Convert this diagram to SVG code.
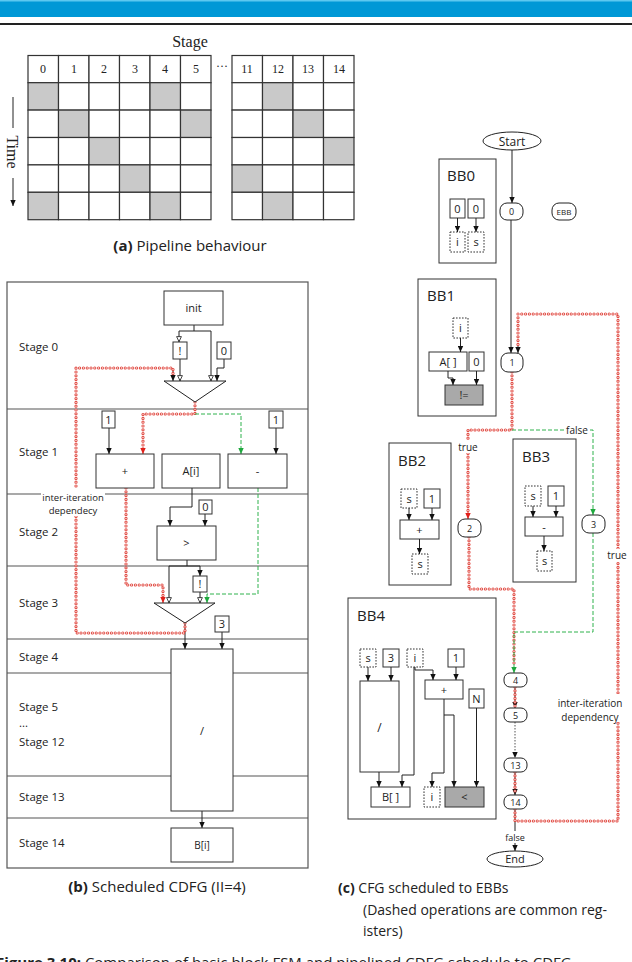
<svg xmlns="http://www.w3.org/2000/svg" xmlns:xlink="http://www.w3.org/1999/xlink" width="632" height="962" viewBox="0 0 632 962">
<defs>
<style>
.ln{stroke:#222;stroke-width:1;fill:none}
.bx{fill:#fff;stroke:#333;stroke-width:1}
.db{fill:#fff;stroke:#333;stroke-width:1;stroke-dasharray:1.6 1.4}
.gb{fill:#a9a9a9;stroke:#333;stroke-width:1}
.cell{fill:#fff;stroke:#333;stroke-width:1.2}
.gc{fill:#c9c9c9;stroke:#333;stroke-width:1.2}
.sf{font-family:"Liberation Serif","DejaVu Serif",serif;fill:#222;text-anchor:middle}
.t{font-family:"Open Sans","Noto Sans","DejaVu Sans",sans-serif;fill:#222;text-anchor:middle}
.tl{font-family:"Open Sans","Noto Sans","DejaVu Sans",sans-serif;fill:#222}
.ro{stroke:#e0463e;stroke-width:3.2;stroke-dasharray:0 3.8;stroke-linecap:round;fill:none}
.ri{stroke:#fff;stroke-width:1.3;stroke-dasharray:0 3.8;stroke-linecap:round;fill:none}
.gd{stroke:#2fb24c;stroke-width:1;stroke-dasharray:4 2;fill:none}
.nd{fill:#fff;stroke:#222;stroke-width:1}
</style>
<marker id="a" viewBox="0 0 10 10" refX="10" refY="5" markerWidth="6" markerHeight="6" markerUnits="userSpaceOnUse" orient="auto"><path d="M0,0.5 L10,5 L0,9.5 z" fill="#111"/></marker>
<marker id="h" viewBox="0 0 10 10" refX="10" refY="5" markerWidth="6" markerHeight="6" markerUnits="userSpaceOnUse" orient="auto"><path d="M1,1 L9.5,5 L1,9 z" fill="#fff" stroke="#111" stroke-width="1.3"/></marker>
<marker id="r" viewBox="0 0 10 10" refX="10" refY="5" markerWidth="6" markerHeight="6" markerUnits="userSpaceOnUse" orient="auto"><path d="M0,0.5 L10,5 L0,9.5 z" fill="#e0201a"/></marker>
<marker id="g" viewBox="0 0 10 10" refX="10" refY="5" markerWidth="6" markerHeight="6" markerUnits="userSpaceOnUse" orient="auto"><path d="M0,0.5 L10,5 L0,9.5 z" fill="#1fa83e"/></marker>
<path id="p1" d="M185,623 V633 H76 V368 H173 V376"/>
<path id="p2" d="M195,402 V414 H143 V449"/>
<path id="p3" d="M126,488 V585 H163 V599"/>
<path id="p4" d="M515,809 V821 H618 V314 H518 V348"/>
<path id="p5" d="M512,372 V430 H468 V514"/>
<path id="p6" d="M469,537 V589 H514 V665"/>
<path id="p7" d="M515,687 V706"/>
<path id="p8" d="M515,772 V793"/>
</defs>
<rect width="632" height="962" fill="#fff"/>
<!-- header -->
<rect x="0" y="0" width="632" height="17" fill="#0098d6"/>
<rect x="0" y="0" width="632" height="1.5" fill="#5cc8f0"/>
<rect x="0" y="23" width="632" height="2" fill="#222"/>

<!-- (a) pipeline -->
<g id="pipeline">
<text class="sf" x="190" y="47" font-size="16">Stage</text>
<g>
<rect class="cell" x="28" y="55.5" width="30.5" height="27.2"/><rect class="cell" x="58.5" y="55.5" width="30.5" height="27.2"/><rect class="cell" x="89" y="55.5" width="30.5" height="27.2"/><rect class="cell" x="119.5" y="55.5" width="30.5" height="27.2"/><rect class="cell" x="150" y="55.5" width="30.5" height="27.2"/><rect class="cell" x="180.5" y="55.5" width="30.5" height="27.2"/>
<rect class="cell" x="232" y="55.5" width="30.5" height="27.2"/><rect class="cell" x="262.5" y="55.5" width="30.5" height="27.2"/><rect class="cell" x="293" y="55.5" width="30.5" height="27.2"/><rect class="cell" x="323.5" y="55.5" width="30.5" height="27.2"/>
</g>
<g font-size="12">
<text class="sf" x="43" y="73">0</text><text class="sf" x="74" y="73">1</text><text class="sf" x="104" y="73">2</text><text class="sf" x="135" y="73">3</text><text class="sf" x="165" y="73">4</text><text class="sf" x="196" y="73">5</text>
<text class="sf" x="222" y="70">···</text>
<text class="sf" x="247" y="73">11</text><text class="sf" x="278" y="73">12</text><text class="sf" x="308" y="73">13</text><text class="sf" x="339" y="73">14</text>
</g>
<!-- rows -->
<g>
<rect class="gc" x="28" y="82.7" width="30.5" height="27.4"/><rect class="cell" x="58.5" y="82.7" width="30.5" height="27.4"/><rect class="cell" x="89" y="82.7" width="30.5" height="27.4"/><rect class="cell" x="119.5" y="82.7" width="30.5" height="27.4"/><rect class="gc" x="150" y="82.7" width="30.5" height="27.4"/><rect class="cell" x="180.5" y="82.7" width="30.5" height="27.4"/>
<rect class="cell" x="232" y="82.7" width="30.5" height="27.4"/><rect class="gc" x="262.5" y="82.7" width="30.5" height="27.4"/><rect class="cell" x="293" y="82.7" width="30.5" height="27.4"/><rect class="cell" x="323.5" y="82.7" width="30.5" height="27.4"/>

<rect class="cell" x="28" y="110.1" width="30.5" height="27.4"/><rect class="gc" x="58.5" y="110.1" width="30.5" height="27.4"/><rect class="cell" x="89" y="110.1" width="30.5" height="27.4"/><rect class="cell" x="119.5" y="110.1" width="30.5" height="27.4"/><rect class="cell" x="150" y="110.1" width="30.5" height="27.4"/><rect class="gc" x="180.5" y="110.1" width="30.5" height="27.4"/>
<rect class="cell" x="232" y="110.1" width="30.5" height="27.4"/><rect class="cell" x="262.5" y="110.1" width="30.5" height="27.4"/><rect class="gc" x="293" y="110.1" width="30.5" height="27.4"/><rect class="cell" x="323.5" y="110.1" width="30.5" height="27.4"/>

<rect class="cell" x="28" y="137.5" width="30.5" height="27.4"/><rect class="cell" x="58.5" y="137.5" width="30.5" height="27.4"/><rect class="gc" x="89" y="137.5" width="30.5" height="27.4"/><rect class="cell" x="119.5" y="137.5" width="30.5" height="27.4"/><rect class="cell" x="150" y="137.5" width="30.5" height="27.4"/><rect class="cell" x="180.5" y="137.5" width="30.5" height="27.4"/>
<rect class="cell" x="232" y="137.5" width="30.5" height="27.4"/><rect class="cell" x="262.5" y="137.5" width="30.5" height="27.4"/><rect class="cell" x="293" y="137.5" width="30.5" height="27.4"/><rect class="gc" x="323.5" y="137.5" width="30.5" height="27.4"/>

<rect class="cell" x="28" y="164.9" width="30.5" height="27.4"/><rect class="cell" x="58.5" y="164.9" width="30.5" height="27.4"/><rect class="cell" x="89" y="164.9" width="30.5" height="27.4"/><rect class="gc" x="119.5" y="164.9" width="30.5" height="27.4"/><rect class="cell" x="150" y="164.9" width="30.5" height="27.4"/><rect class="cell" x="180.5" y="164.9" width="30.5" height="27.4"/>
<rect class="gc" x="232" y="164.9" width="30.5" height="27.4"/><rect class="cell" x="262.5" y="164.9" width="30.5" height="27.4"/><rect class="cell" x="293" y="164.9" width="30.5" height="27.4"/><rect class="cell" x="323.5" y="164.9" width="30.5" height="27.4"/>

<rect class="gc" x="28" y="192.3" width="30.5" height="27.4"/><rect class="cell" x="58.5" y="192.3" width="30.5" height="27.4"/><rect class="cell" x="89" y="192.3" width="30.5" height="27.4"/><rect class="cell" x="119.5" y="192.3" width="30.5" height="27.4"/><rect class="gc" x="150" y="192.3" width="30.5" height="27.4"/><rect class="cell" x="180.5" y="192.3" width="30.5" height="27.4"/>
<rect class="cell" x="232" y="192.3" width="30.5" height="27.4"/><rect class="gc" x="262.5" y="192.3" width="30.5" height="27.4"/><rect class="cell" x="293" y="192.3" width="30.5" height="27.4"/><rect class="cell" x="323.5" y="192.3" width="30.5" height="27.4"/>
</g>
<line class="ln" x1="13" y1="97" x2="13" y2="128"/>
<text class="sf" font-size="16" transform="translate(7,152) rotate(90)">Time</text>
<line class="ln" x1="13" y1="178" x2="13" y2="206" marker-end="url(#a)"/>
<text class="t" x="190" y="251" font-size="15"><tspan font-weight="bold">(a)</tspan> Pipeline behaviour</text>
</g>

<!-- (b) CDFG -->
<g id="cdfg-frame">
<rect x="7" y="282" width="301" height="586" fill="#fff" stroke="#555" stroke-width="1.2"/>
<g stroke="#555" stroke-width="1.2">
<line x1="7" y1="409" x2="308" y2="409"/>
<line x1="7" y1="494" x2="308" y2="494"/>
<line x1="7" y1="566" x2="308" y2="566"/>
<line x1="7" y1="639" x2="308" y2="639"/>
<line x1="7" y1="673" x2="308" y2="673"/>
<line x1="7" y1="776" x2="308" y2="776"/>
<line x1="7" y1="818" x2="308" y2="818"/>
</g>
<g font-size="11.5">
<text class="tl" x="19" y="351">Stage 0</text>
<text class="tl" x="19" y="456">Stage 1</text>
<text class="tl" x="19" y="536">Stage 2</text>
<text class="tl" x="19" y="607">Stage 3</text>
<text class="tl" x="19" y="661">Stage 4</text>
<text class="tl" x="19" y="711">Stage 5</text>
<text class="tl" x="19" y="727">...</text>
<text class="tl" x="19" y="746">Stage 12</text>
<text class="tl" x="19" y="801">Stage 13</text>
<text class="tl" x="19" y="847">Stage 14</text>
</g>
</g>

<g id="connectors-cdfg">
<path class="ln" d="M194,325 V331 M179,331 H211"/>
<path class="ln" d="M179,331 V342" marker-end="url(#h)"/>
<path class="ln" d="M211,331 V381" marker-end="url(#h)"/>
<path class="ln" d="M180,359 V381" marker-end="url(#h)"/>
<path class="ln" d="M224,359 V368 H217 V381" marker-end="url(#a)"/>
<path class="ln" d="M173,370 V381" marker-end="url(#a)"/>
<path class="ln" d="M109,428 V454" marker-end="url(#a)"/>
<path class="ln" d="M276,428 V454" marker-end="url(#a)"/>
<path class="ln" d="M192,488 V507 H170 V526" marker-end="url(#a)"/>
<path class="ln" d="M205,514 V526" marker-end="url(#a)"/>
<path class="ln" d="M187,560 V566 M169,566 H200"/>
<path class="ln" d="M169,566 V603" marker-end="url(#h)"/>
<path class="ln" d="M200,566 V576" marker-end="url(#a)"/>
<path class="ln" d="M200,592 V603" marker-end="url(#h)"/>
<path class="ln" d="M185,623 V649" marker-end="url(#a)"/>
<path class="ln" d="M222,632 V649" marker-end="url(#a)"/>
<path class="ln" d="M202,811 V828" marker-end="url(#a)"/>
<use xlink:href="#p1" class="ro"/><use xlink:href="#p1" class="ri"/>
<use xlink:href="#p2" class="ro"/><use xlink:href="#p2" class="ri"/>
<path d="M143,449 V454" stroke="#e0201a" fill="none" marker-end="url(#r)"/>
<use xlink:href="#p3" class="ro"/><use xlink:href="#p3" class="ri"/>
<path d="M163,598 V603" stroke="#e0201a" fill="none" marker-end="url(#r)"/>
<path class="gd" d="M195,414 H241 V454" marker-end="url(#g)"/>
<path class="gd" d="M258,488 V594 H207 V603" marker-end="url(#g)"/>
<rect x="41" y="488" width="64" height="28" fill="#fff"/>
<text class="t" x="73" y="501" font-size="9.5">inter-iteration</text>
<text class="t" x="73" y="514" font-size="9.5">dependecy</text>
</g>

<g id="n-init"><rect class="bx" x="164" y="291" width="59" height="34"/><text class="t" x="193.5" y="312" font-size="11">init</text></g>
<g id="n-not0"><rect class="bx" x="173" y="342" width="14" height="17"/><text class="t" x="180" y="355" font-size="11">!</text></g>
<g id="n-c0a"><rect class="bx" x="217" y="342" width="14" height="17"/><text class="t" x="224" y="355" font-size="11">0</text></g>
<g id="n-mux0"><polygon points="164,381 226,381 195,402" fill="#fff" stroke="#222" stroke-width="1"/></g>
<g id="n-c1a"><rect class="bx" x="102" y="411" width="13" height="17"/><text class="t" x="108.5" y="424" font-size="11">1</text></g>
<g id="n-c1b"><rect class="bx" x="269" y="411" width="14" height="17"/><text class="t" x="276" y="424" font-size="11">1</text></g>
<g id="n-add"><rect class="bx" x="96" y="454" width="58" height="34"/><text class="t" x="125" y="475" font-size="11">+</text></g>
<g id="n-ai"><rect class="bx" x="162" y="454" width="58" height="34"/><text class="t" x="191" y="475" font-size="11">A[i]</text></g>
<g id="n-sub"><rect class="bx" x="228" y="454" width="59" height="34"/><text class="t" x="257.5" y="475" font-size="11">-</text></g>
<g id="n-c0b"><rect class="bx" x="199" y="500" width="13" height="14"/><text class="t" x="205.5" y="511" font-size="11">0</text></g>
<g id="n-gt"><rect class="bx" x="157" y="526" width="59" height="34"/><text class="t" x="186.5" y="547" font-size="11">&gt;</text></g>
<g id="n-not1"><rect class="bx" x="193" y="576" width="14" height="16"/><text class="t" x="200" y="588" font-size="11">!</text></g>
<g id="n-mux3"><polygon points="154,603 215,603 185,623" fill="#fff" stroke="#222" stroke-width="1"/></g>
<g id="n-c3"><rect class="bx" x="215" y="616" width="14" height="16"/><text class="t" x="222" y="628" font-size="11">3</text></g>
<g id="n-div"><rect class="bx" x="171" y="649" width="62" height="162"/><text class="t" x="202" y="735" font-size="11">/</text></g>
<g id="n-bi"><rect class="bx" x="171" y="828" width="62" height="34"/><text class="t" x="202" y="849" font-size="10">B[i]</text></g>
<text class="t" x="157" y="892" font-size="15"><tspan font-weight="bold">(b)</tspan> Scheduled CDFG (II=4)</text>

<!-- (c) CFG -->
<g id="bb0"><rect class="bx" x="439" y="159" width="57" height="104"/><text class="tl" x="447" y="181" font-size="15">BB0</text>
<rect class="bx" x="450" y="199" width="15" height="19"/><text class="t" x="457.5" y="213" font-size="11">0</text>
<rect class="bx" x="468" y="199" width="16" height="19"/><text class="t" x="476" y="213" font-size="11">0</text>
<rect class="db" x="450" y="232" width="15" height="20"/><text class="t" x="457.5" y="246" font-size="11">i</text>
<rect class="db" x="468" y="232" width="16" height="20"/><text class="t" x="476" y="246" font-size="11">s</text>
</g>
<g id="bb1"><rect class="bx" x="418" y="279" width="78" height="137"/><text class="tl" x="427" y="301" font-size="15">BB1</text>
<rect class="db" x="453" y="318" width="15" height="20"/><text class="t" x="460.5" y="332" font-size="11">i</text>
<rect class="bx" x="429" y="352" width="38" height="19"/><text class="t" x="448" y="366" font-size="11">A[ ]</text>
<rect class="bx" x="469" y="352" width="15" height="19"/><text class="t" x="476.5" y="366" font-size="11">0</text>
<rect class="gb" x="445" y="385" width="38" height="20"/><text class="t" x="464" y="399" font-size="11">!=</text>
</g>
<g id="bb2"><rect class="bx" x="389" y="443" width="62" height="142"/><text class="tl" x="398" y="466" font-size="15">BB2</text>
<rect class="db" x="401" y="489" width="16" height="19"/><text class="t" x="409" y="503" font-size="11">s</text>
<rect class="bx" x="424" y="489" width="16" height="19"/><text class="t" x="432" y="503" font-size="11">1</text>
<rect class="bx" x="400" y="520" width="39" height="19"/><text class="t" x="419.5" y="534" font-size="11">+</text>
<rect class="db" x="412" y="554" width="16" height="20"/><text class="t" x="420" y="568" font-size="11">s</text>
</g>
<g id="bb3"><rect class="bx" x="513" y="439" width="63" height="143"/><text class="tl" x="522" y="462" font-size="15">BB3</text>
<rect class="db" x="525" y="486" width="16" height="20"/><text class="t" x="533" y="500" font-size="11">s</text>
<rect class="bx" x="548" y="486" width="16" height="20"/><text class="t" x="556" y="500" font-size="11">1</text>
<rect class="bx" x="525" y="517" width="38" height="19"/><text class="t" x="544" y="531" font-size="11">-</text>
<rect class="db" x="537" y="551" width="15" height="20"/><text class="t" x="544.5" y="565" font-size="11">s</text>
</g>
<g id="bb4"><rect class="bx" x="348" y="598" width="148" height="221"/><text class="tl" x="357" y="621" font-size="15">BB4</text>
<rect class="db" x="360" y="649" width="16" height="18"/><text class="t" x="368" y="662" font-size="11">s</text>
<rect class="bx" x="383" y="649" width="16" height="18"/><text class="t" x="391" y="662" font-size="11">3</text>
<rect class="db" x="407" y="649" width="16" height="18"/><text class="t" x="415" y="662" font-size="11">i</text>
<rect class="bx" x="448" y="649" width="16" height="18"/><text class="t" x="456" y="662" font-size="11">1</text>
<rect class="bx" x="360" y="681" width="39" height="91"/><text class="t" x="379.5" y="732" font-size="12">/</text>
<rect class="bx" x="425" y="680" width="38" height="19"/><text class="t" x="444" y="694" font-size="11">+</text>
<rect class="bx" x="469" y="689" width="15" height="19"/><text class="t" x="476.5" y="703" font-size="11">N</text>
<rect class="bx" x="371" y="787" width="39" height="20"/><text class="t" x="390.5" y="801" font-size="11">B[ ]</text>
<rect class="db" x="424" y="787" width="16" height="20"/><text class="t" x="432" y="801" font-size="11">i</text>
<rect class="gb" x="445" y="787" width="39" height="20"/><text class="t" x="464.5" y="801" font-size="11">&lt;</text>
</g>

<g id="connectors-cfg">
<path class="ln" d="M512,150 V203" marker-end="url(#a)"/>
<path class="ln" d="M511,220 V353" marker-end="url(#a)"/>
<path class="ln" d="M457.5,218 V232" marker-end="url(#a)"/>
<path class="ln" d="M476,218 V232" marker-end="url(#a)"/>
<path class="ln" d="M460.5,338 V352" marker-end="url(#a)"/>
<path class="ln" d="M448,371 V378 H453 V385" marker-end="url(#a)"/>
<path class="ln" d="M476.5,371 V385" marker-end="url(#a)"/>
<path class="ln" d="M409,508 V520" marker-end="url(#a)"/>
<path class="ln" d="M432,508 V520" marker-end="url(#a)"/>
<path class="ln" d="M419.5,539 V554" marker-end="url(#a)"/>
<path class="ln" d="M533,506 V517" marker-end="url(#a)"/>
<path class="ln" d="M556,506 V517" marker-end="url(#a)"/>
<path class="ln" d="M544,536 V551" marker-end="url(#a)"/>
<path class="ln" d="M368,667 V681" marker-end="url(#a)"/>
<path class="ln" d="M391,667 V681" marker-end="url(#a)"/>
<path class="ln" d="M415,667 V670 H433 V680" marker-end="url(#a)"/>
<path class="ln" d="M414,667 V775 H402 V787" marker-end="url(#a)"/>
<path class="ln" d="M456,667 V680" marker-end="url(#a)"/>
<path class="ln" d="M444,699 V773 H432 V787" marker-end="url(#a)"/>
<path class="ln" d="M444,715 H454 V787" marker-end="url(#a)"/>
<path class="ln" d="M476.5,708 V787" marker-end="url(#a)"/>
<path class="ln" d="M379,772 V787" marker-end="url(#a)"/>
<path class="ln" d="M515,687 V708" marker-end="url(#a)"/>
<path d="M515,722 V758" stroke="#555" stroke-width="1" stroke-dasharray="1.5 1.5" fill="none" marker-end="url(#a)"/>
<path class="ln" d="M515,772 V795" marker-end="url(#a)"/>
<path class="ln" d="M515,809 V851" marker-end="url(#a)"/>
<use xlink:href="#p4" class="ro"/><use xlink:href="#p4" class="ri"/>
<path class="ln" d="M518,346 V353" marker-end="url(#a)"/>
<use xlink:href="#p5" class="ro"/><use xlink:href="#p5" class="ri"/>
<path d="M468,512 V519" stroke="#e0201a" fill="none" marker-end="url(#r)"/>
<use xlink:href="#p6" class="ro"/><use xlink:href="#p6" class="ri"/>
<use xlink:href="#p7" class="ro"/><use xlink:href="#p7" class="ri"/>
<use xlink:href="#p8" class="ro"/><use xlink:href="#p8" class="ri"/>
<path class="gd" d="M512,430 H593 V515" marker-end="url(#g)"/>
<path class="gd" d="M593,533 V632 H514 V673" marker-end="url(#g)"/>
<rect x="456" y="440" width="25" height="13" fill="#fff"/>
<text class="t" x="468" y="451" font-size="10">true</text>
<rect x="565" y="424" width="24" height="12" fill="#fff"/>
<text class="t" x="577" y="434" font-size="10">false</text>
<rect x="605" y="549" width="25" height="13" fill="#fff"/>
<text class="t" x="617" y="559" font-size="10">true</text>
<rect x="556" y="694" width="70" height="28" fill="#fff"/>
<text class="t" x="590" y="707" font-size="10">inter-iteration</text>
<text class="t" x="590" y="721" font-size="10">dependency</text>
<rect x="503" y="831" width="24" height="12" fill="#fff"/>
<text class="t" x="515" y="841" font-size="9">false</text>
</g>

<g id="n-start"><ellipse class="nd" cx="512" cy="141" rx="29" ry="9"/><text class="t" x="512" y="145.5" font-size="12">Start</text></g>
<g id="n-0"><rect class="nd" x="500" y="203" width="23" height="17" rx="7"/><text class="t" x="511.5" y="215" font-size="9">0</text></g>
<g id="n-ebb"><rect class="nd" x="552" y="203" width="24" height="17" rx="7"/><text class="t" x="564" y="215" font-size="8">EBB</text></g>
<g id="n-1"><rect class="nd" x="501" y="353" width="22" height="19" rx="7"/><text class="t" x="512" y="366" font-size="9">1</text></g>
<g id="n-2"><rect class="nd" x="458" y="519" width="23" height="18" rx="7"/><text class="t" x="469.5" y="531.5" font-size="9">2</text></g>
<g id="n-3"><rect class="nd" x="582" y="515" width="23" height="18" rx="7"/><text class="t" x="593.5" y="527.5" font-size="9">3</text></g>
<g id="n-4"><rect class="nd" x="504" y="673" width="23" height="14" rx="6"/><text class="t" x="515.5" y="683.5" font-size="9">4</text></g>
<g id="n-5"><rect class="nd" x="504" y="708" width="23" height="14" rx="6"/><text class="t" x="515.5" y="718.5" font-size="9">5</text></g>
<g id="n-13"><rect class="nd" x="504" y="758" width="23" height="14" rx="6"/><text class="t" x="515.5" y="768.5" font-size="9">13</text></g>
<g id="n-14"><rect class="nd" x="504" y="795" width="23" height="14" rx="6"/><text class="t" x="515.5" y="805.5" font-size="9">14</text></g>
<g id="n-end"><ellipse class="nd" cx="515" cy="859" rx="28" ry="8"/><text class="t" x="515" y="863" font-size="11">End</text></g>

<text class="tl" x="338" y="893" font-size="14"><tspan font-weight="bold">(c)</tspan> CFG scheduled to EBBs</text>
<text class="tl" x="363" y="915" font-size="14">(Dashed operations are common reg-</text>
<text class="tl" x="363" y="936" font-size="14">isters)</text>
<text class="tl" x="-4" y="968" font-size="15"><tspan font-weight="bold">Figure 3.10:</tspan> Comparison of basic block FSM and pipelined CDFG schedule to CDFG</text>
</svg>
